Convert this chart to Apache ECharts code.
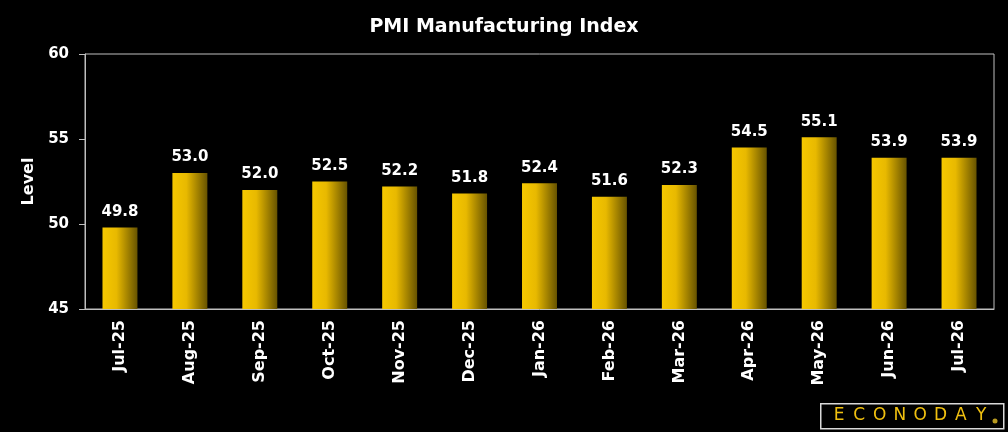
<!DOCTYPE html>
<html lang="en">
<head>
  <meta charset="UTF-8">
  <title>PMI Manufacturing Index</title>
  <style>
    * { margin: 0; padding: 0; box-sizing: border-box; }
    body { background: #000; }
    #chart { width: 1008px; height: 432px; }
  </style>
</head>
<body>
  <div id="chart"></div>
  <script src="https://cdn.jsdelivr.net/npm/echarts@6/dist/echarts.min.js"></script>
  <script>
    const months = ['Jul-25', 'Aug-25', 'Sep-25', 'Oct-25', 'Nov-25', 'Dec-25', 'Jan-26',
                    'Feb-26', 'Mar-26', 'Apr-26', 'May-26', 'Jun-26', 'Jul-26'];
    const pmiValues = [49.8, 53.0, 52.0, 52.5, 52.2, 51.8, 52.4, 51.6, 52.3, 54.5, 55.1, 53.9, 53.9];
    const yTicks = [45, 50, 55, 60];

    const font = '"DejaVu Sans", Verdana, sans-serif';
    const chart = echarts.init(document.getElementById('chart'));

    // gold bar, darkening to the right
    const barFill = new echarts.graphic.LinearGradient(0, 0, 1, 0, [
      { offset: 0, color: '#f6c800' },
      { offset: 0.4, color: '#e8b900' },
      { offset: 1, color: '#675300' }
    ]);

    // logo letters, spread out
    const logo = [{
      type: 'rect', left: 820, top: 403,
      shape: { width: 183, height: 25 },
      style: { fill: '#000', stroke: '#d9d9d9', lineWidth: 1.5 }
    }];
    'ECONODAY'.split('').forEach((ch, i) => {
      logo.push({
        type: 'text', x: 839 + i * 20.3, y: 416,
        style: {
          text: ch, fill: '#f0c010', align: 'center', verticalAlign: 'middle',
          font: '17px "DejaVu Sans", sans-serif'
        }
      });
    });
    logo.push({
      type: 'circle', shape: { cx: 995, cy: 421, r: 2.5 },
      style: { fill: '#b89a20' }
    });

    chart.setOption({
      backgroundColor: '#000',
      animation: false,
      title: {
        text: 'PMI Manufacturing Index',
        left: 'center',
        top: 13,
        textStyle: { color: '#fff', fontSize: 19, fontWeight: 'bold', fontFamily: font }
      },
      grid: {
        left: 85, right: 14, top: 54, bottom: 123,
        show: true, borderColor: '#bfbfbf', borderWidth: 1
      },
      xAxis: {
        type: 'category',
        data: months,
        axisLine: { lineStyle: { color: '#bfbfbf' } },
        axisTick: { show: false },
        axisLabel: {
          rotate: 90, color: '#fff', fontSize: 16, fontWeight: 'bold',
          fontFamily: font, margin: 11
        }
      },
      yAxis: {
        type: 'value',
        min: yTicks[0], max: yTicks[yTicks.length - 1], interval: 5,
        name: 'Level',
        nameLocation: 'middle',
        nameGap: 45,
        nameTextStyle: { color: '#fff', fontSize: 16, fontWeight: 'bold', fontFamily: font },
        axisLine: { show: true, lineStyle: { color: '#bfbfbf' } },
        axisTick: { show: true, length: 6, lineStyle: { color: '#bfbfbf' } },
        splitLine: { show: false },
        axisLabel: { color: '#fff', fontSize: 15, fontWeight: 'bold', fontFamily: font, margin: 16 }
      },
      series: [{
        type: 'bar',
        data: pmiValues,
        barWidth: '50%',
        itemStyle: { color: barFill },
        label: {
          show: true, position: 'top', distance: 8,
          color: '#fff', fontSize: 15, fontWeight: 'bold', fontFamily: font,
          formatter: p => p.value.toFixed(1)
        }
      }],
      graphic: logo
    });
  </script>
</body>
</html>
